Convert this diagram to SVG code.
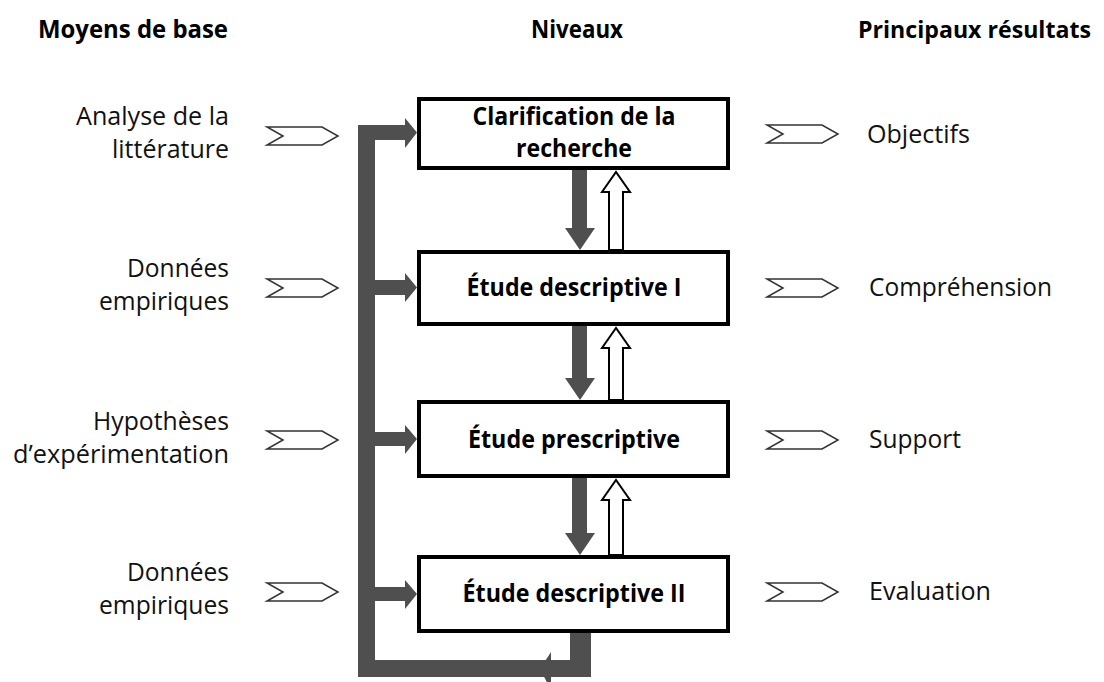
<svg xmlns="http://www.w3.org/2000/svg" width="1104" height="682" viewBox="0 0 1104 682">
<style>
.hdr{font-family:"Open Sans","Liberation Sans",sans-serif;font-weight:bold;font-size:25px;fill:#000}
.hdr2{font-size:22.5px}
.lbl{font-family:"Open Sans","Liberation Sans",sans-serif;font-size:26px;fill:#111}
.box rect{fill:#fff;stroke:#000;stroke-width:4}
.box text{font-family:"Open Sans","Liberation Sans",sans-serif;font-weight:bold;font-size:25px;fill:#000;text-anchor:middle}
.chev{fill:#fff;stroke:#333;stroke-width:1.5;stroke-linejoin:miter}
.gray{fill:#4f4f4f}
.hollow{fill:#fff;stroke:#000;stroke-width:2}
.r{text-anchor:end}
</style>
<defs>
<polygon id="chevL" class="chev" points="0,-9 55,-9 71,0 55,9 0,9 16,0"/>
</defs>
<g id="headers">
<text class="hdr" x="38" y="38" textLength="190" lengthAdjust="spacingAndGlyphs">Moyens de base</text>
<text class="hdr" x="531" y="38" textLength="92" lengthAdjust="spacingAndGlyphs">Niveaux</text>
<text class="hdr hdr2" x="858" y="38" textLength="233" lengthAdjust="spacingAndGlyphs">Principaux résultats</text>
</g>
<g id="inputs">
<text class="lbl r" x="229" y="125" textLength="153" lengthAdjust="spacingAndGlyphs">Analyse de la</text>
<text class="lbl r" x="229" y="158" textLength="117" lengthAdjust="spacingAndGlyphs">littérature</text>
<text class="lbl r" x="229" y="277" textLength="102" lengthAdjust="spacingAndGlyphs">Données</text>
<text class="lbl r" x="229" y="310" textLength="130" lengthAdjust="spacingAndGlyphs">empiriques</text>
<text class="lbl r" x="229" y="430" textLength="136" lengthAdjust="spacingAndGlyphs">Hypothèses</text>
<text class="lbl r" x="229" y="463" textLength="216" lengthAdjust="spacingAndGlyphs">d’expérimentation</text>
<text class="lbl r" x="229" y="581" textLength="102" lengthAdjust="spacingAndGlyphs">Données</text>
<text class="lbl r" x="229" y="614" textLength="130" lengthAdjust="spacingAndGlyphs">empiriques</text>
<use href="#chevL" x="267" y="136"/>
<use href="#chevL" x="267" y="288"/>
<use href="#chevL" x="267" y="440"/>
<use href="#chevL" x="267" y="592"/>
</g>
<g id="outputs">
<use href="#chevL" x="767" y="134"/>
<use href="#chevL" x="767" y="288"/>
<use href="#chevL" x="767" y="440"/>
<use href="#chevL" x="767" y="592"/>
<text class="lbl" x="867" y="143" textLength="103" lengthAdjust="spacingAndGlyphs">Objectifs</text>
<text class="lbl" x="869" y="296" textLength="183" lengthAdjust="spacingAndGlyphs">Compréhension</text>
<text class="lbl" x="869" y="448" textLength="92" lengthAdjust="spacingAndGlyphs">Support</text>
<text class="lbl" x="869" y="600" textLength="122" lengthAdjust="spacingAndGlyphs">Evaluation</text>
</g>
<g id="connectors">
<rect class="gray" x="358" y="125" width="17" height="552"/>
<polygon class="gray" points="375,125 405,125 405,118 417,132.5 405,148 405,140 375,140"/>
<polygon class="gray" points="375,280 405,280 405,273 417,287.5 405,302 405,295 375,295"/>
<polygon class="gray" points="375,432 405,432 405,425 417,439 405,454 405,446 375,446"/>
<polygon class="gray" points="375,587 405,587 405,580 417,594 405,609 405,601 375,601"/>
<rect class="gray" x="358" y="660" width="233" height="17"/>
<rect class="gray" x="570" y="631" width="21" height="46"/>
<polygon class="gray" points="551,652 540,669 551,690"/>
<polygon class="gray" points="572,170 587,170 587,228 595,228 580,250 565,228 572,228"/>
<polygon class="gray" points="572,326 587,326 587,378 595,378 580,400 565,378 572,378"/>
<polygon class="gray" points="572,478 587,478 587,533 595,533 580,555 565,533 572,533"/>
<polygon class="hollow" points="609,250 609,192 602,192 616,172 630,192 623,192 623,250"/>
<polygon class="hollow" points="609,400 609,348 602,348 616,328 630,348 623,348 623,400"/>
<polygon class="hollow" points="609,555 609,500 602,500 616,480 630,500 623,500 623,555"/>
</g>
<g id="n1" class="box">
<rect x="419" y="99" width="309" height="69"/>
<text x="574" y="125" textLength="203" lengthAdjust="spacingAndGlyphs">Clarification de la</text>
<text x="574" y="157" textLength="116" lengthAdjust="spacingAndGlyphs">recherche</text>
</g>
<g id="n2" class="box">
<rect x="419" y="252" width="309" height="72"/>
<text x="574" y="296" textLength="215" lengthAdjust="spacingAndGlyphs">Étude descriptive I</text>
</g>
<g id="n3" class="box">
<rect x="419" y="402" width="309" height="74"/>
<text x="574" y="448" textLength="212" lengthAdjust="spacingAndGlyphs">Étude prescriptive</text>
</g>
<g id="n4" class="box">
<rect x="419" y="557" width="309" height="74"/>
<text x="574" y="602" textLength="223" lengthAdjust="spacingAndGlyphs">Étude descriptive II</text>
</g>
</svg>
